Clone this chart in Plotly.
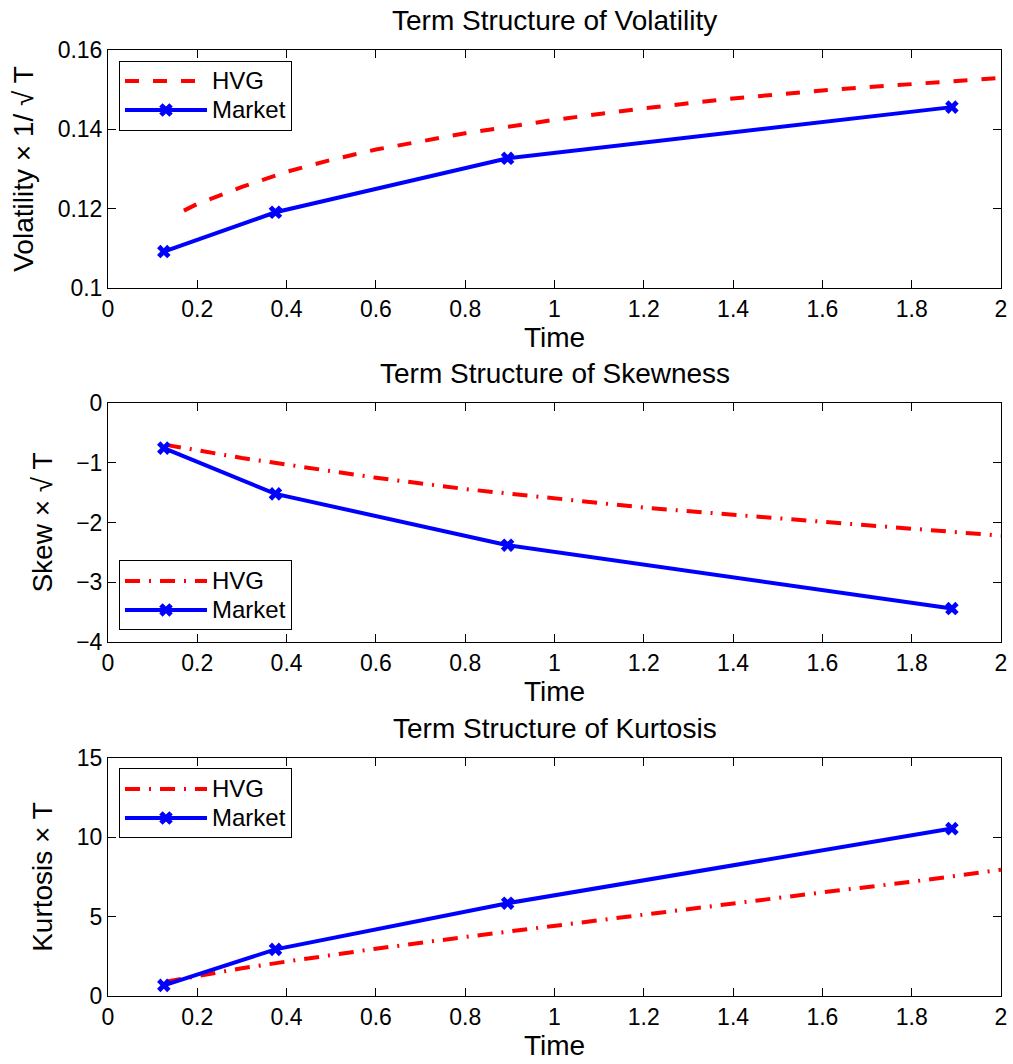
import plotly.graph_objects as go

# ---------------- data ----------------
market_t = [0.125, 0.375, 0.895, 1.89]
market_vol = [0.1092, 0.1191, 0.1327, 0.1456]
market_skew = [-0.755, -1.52, -2.38, -3.44]
market_kurt = [0.67, 2.94, 5.85, 10.55]

hvg_t = [0.17, 0.2, 0.3, 0.4, 0.5, 0.6, 0.8, 1.0, 1.2, 1.4, 1.6, 1.8, 2.0]
hvg_vol = [0.1195, 0.1212, 0.1255, 0.1293, 0.1323, 0.1349, 0.1390, 0.1424,
           0.1453, 0.1478, 0.1498, 0.1515, 0.1530]
hvg_skew_t = [0.13, 0.17, 0.2, 0.3, 0.4, 0.5, 0.6, 0.8, 1.0, 1.2, 1.4, 1.6, 1.8, 2.0]
hvg_skew = [-0.70, -0.75, -0.80, -0.92, -1.03, -1.14, -1.25, -1.44, -1.60,
            -1.75, -1.87, -1.99, -2.10, -2.22]
hvg_kurt_t = [0.13, 0.17, 0.2, 0.3, 0.4, 0.5, 0.6, 0.8, 1.0, 1.2, 1.4, 1.6, 1.8, 2.0]
hvg_kurt = [0.9, 1.1, 1.26, 1.75, 2.17, 2.58, 2.98, 3.72, 4.43, 5.15, 5.84,
            6.53, 7.2, 7.96]

series_names = ["HVG", "Market"]
titles = ["Term Structure of Volatility", "Term Structure of Skewness",
          "Term Structure of Kurtosis"]
ylabels = ["Volatility × 1/ √ T", "Skew × √ T", "Kurtosis × T"]
xlabel = "Time"

FONT = "Liberation Sans, Arial, Helvetica, sans-serif"
RED = "#ff0000"
BLUE = "#0000ff"


def legend_name(s):
    return '<span style="font-size:24px">' + s + "</span>"


fig = go.Figure()

panels = [
    (hvg_t, hvg_vol, market_vol, "14px,14px", "legend"),
    (hvg_skew_t, hvg_skew, market_skew, "15px,9px,2px,9px", "legend2"),
    (hvg_kurt_t, hvg_kurt, market_kurt, "15px,9px,2px,9px", "legend3"),
]
for i, (ht, hv, mv, dash, leg) in enumerate(panels):
    ax = "" if i == 0 else str(i + 1)
    fig.add_trace(go.Scatter(x=ht, y=hv, mode="lines", name=legend_name(series_names[0]),
                             line=dict(color=RED, width=4, dash=dash),
                             xaxis="x" + ax, yaxis="y" + ax, legend=leg))
    fig.add_trace(go.Scatter(x=market_t, y=mv, mode="lines+markers",
                             name=legend_name(series_names[1]),
                             line=dict(color=BLUE, width=4),
                             marker=dict(symbol="x", size=12, color=BLUE),
                             xaxis="x" + ax, yaxis="y" + ax, legend=leg))

domains = [[0.7484, 1.0], [0.3742, 0.6268], [0.0, 0.2516]]
yranges = [[0.1, 0.16], [-4, 0], [0, 15]]
ydticks = [0.02, 1, 5]
legend_y = [0.9519, 0.4234, 0.2035]

axis_common = dict(showline=True, mirror="ticks", linecolor="black", linewidth=1,
                   ticks="inside", ticklen=8, tickcolor="black", tickwidth=1,
                   showgrid=False, zeroline=False, automargin=False,
                   tickfont=dict(family=FONT, size=23, color="black"))

layout = dict(
    width=1013, height=1064,
    margin=dict(l=108, r=12, t=50, b=68),
    paper_bgcolor="white", plot_bgcolor="white",
    font=dict(family=FONT, color="black"),
    showlegend=True,
)

annotations = []
for i in range(3):
    ax = "" if i == 0 else str(i + 1)
    layout["xaxis" + ax] = dict(axis_common, domain=[0, 1], anchor="y" + ax,
                                range=[0, 2], dtick=0.2, tick0=0,
                                title=dict(text=xlabel, standoff=0,
                                           font=dict(family=FONT, size=28)))
    layout["yaxis" + ax] = dict(axis_common, domain=domains[i], anchor="x" + ax,
                                range=yranges[i], dtick=ydticks[i], tick0=0,
                                title=dict(text=ylabels[i], standoff=15,
                                           font=dict(family=FONT, size=28)))
    legkey = "legend" if i == 0 else "legend" + str(i + 1)
    layout[legkey] = dict(x=0.0123, y=legend_y[i], xanchor="left", yanchor="middle",
                          bgcolor="white", bordercolor="black", borderwidth=1,
                          font=dict(family=FONT, size=20), itemwidth=82,
                          tracegroupgap=0)
    annotations.append(dict(text=titles[i], xref="x" + ax + " domain",
                            yref="y" + ax + " domain", x=0.5, y=1,
                            xanchor="center", yanchor="bottom", yshift=12,
                            showarrow=False, font=dict(family=FONT, size=28)))
layout["annotations"] = annotations
fig.update_layout(**layout)

fig.write_html(
    "out.html",
    config={"displayModeBar": False},
    post_script="document.documentElement.style.margin='0';"
                "document.documentElement.style.overflow='hidden';"
                "document.body.style.margin='0';"
                "document.body.style.overflow='hidden';",
)
